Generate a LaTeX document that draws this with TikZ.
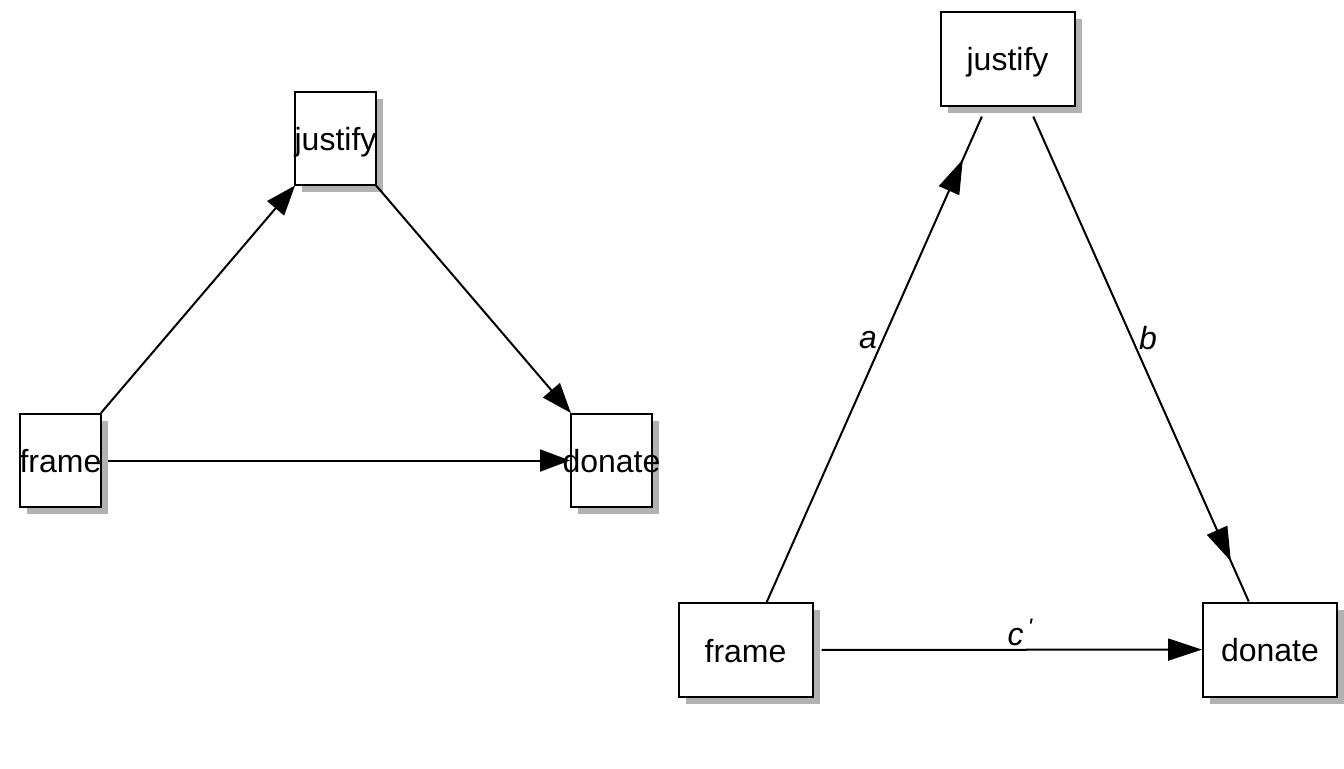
\documentclass[tikz,border=0pt]{standalone}
\usepackage{fontspec}
\setmainfont{Liberation Sans}
\usetikzlibrary{arrows.meta,shadows,decorations.markings}

\begin{document}
\begin{tikzpicture}[x=0.5pt,y=-0.5pt,
  var/.style={draw,fill=white,line width=1pt,inner sep=0pt,text height=12pt,text depth=0pt,
    font=\fontsize{16}{19}\selectfont,
    drop shadow={shadow xshift=3.5pt,shadow yshift=-3.5pt,fill=gray!60,opacity=1}},
  small/.style={var,minimum width=40.5pt,minimum height=46.5pt},
  wide/.style={var,minimum width=67pt,minimum height=47pt},
  link/.style={line width=1pt},
  tip/.style={-{Triangle[length=15pt,width=11pt]}},
  midtip/.style={postaction={decorate},decoration={markings,mark=at position #1 with {\arrow{Triangle[length=17pt,width=11pt]}}}},
  coef/.style={font=\itshape\fontsize{16}{19}\selectfont}]
\useasboundingbox (0,0) rectangle (1344,768);
% left panel
\node[small] (frameL) at (60.5,460.5) {\makebox[0pt]{frame}};
\node[small] (justifyL) at (335.5,138) {\makebox[0pt]{justify}};
\node[small] (donateL) at (611.5,460.5) {\makebox[0pt]{donate}};
\draw[link,tip] (frameL) -- (justifyL);
\draw[link,tip] (justifyL) -- (donateL);
\draw[link,tip,shorten <=3pt] (frameL) -- (donateL);
% right panel
\node[wide] (frameR) at (745.5,650) {frame};
\node[wide] (justifyR) at (1007.5,58.5) {justify};
\node[wide] (donateR) at (1270,649.5) {donate};
\draw[link,shorten >=5.5pt,midtip=-29pt] (frameR) -- (justifyR);
\draw[link,shorten <=5.5pt,midtip=-22pt] (justifyR) -- (donateR);
\draw[link,-{Triangle[length=17pt,width=11pt]},shorten <=4pt] (frameR) -- (donateR);
\node[coef] (a) at (868,340) {a};
\node[coef] (b) at (1148,338) {b};
\node[coef] (c) at (1020,632) {c\hspace{2pt}\raisebox{5pt}{\fontsize{12}{12}\selectfont\textquotesingle}};
\end{tikzpicture}
\end{document}
